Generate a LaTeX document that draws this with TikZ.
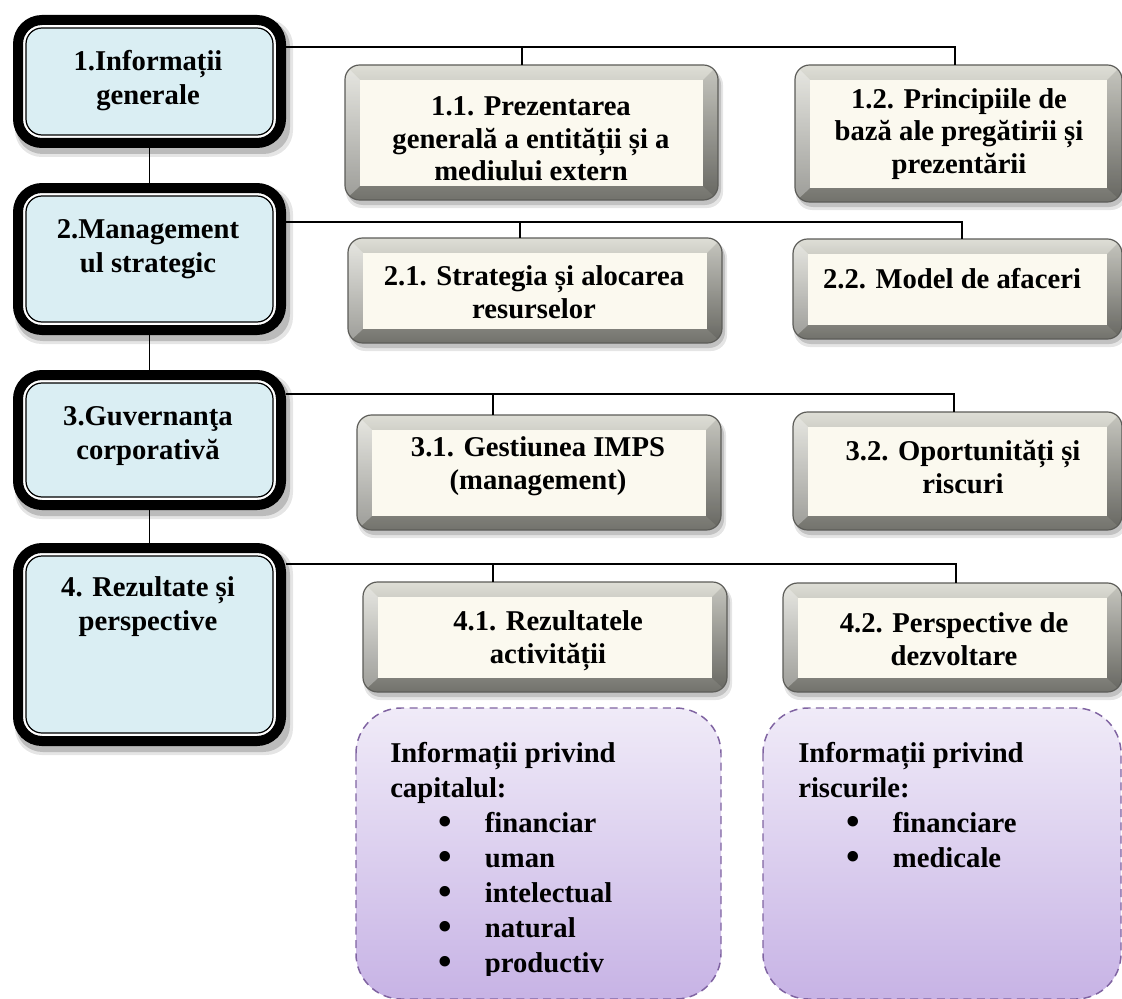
\documentclass[tikz,border=0pt]{standalone}
\usepackage{fontspec}
\setmainfont{Liberation Serif}
\usetikzlibrary{fit}

\definecolor{headfill}{HTML}{DAEEF3}
\definecolor{creamfill}{HTML}{FBF9EF}
\definecolor{bevtop}{HTML}{DEDED6}
\definecolor{bevbot}{HTML}{72726C}
\definecolor{bevedge}{HTML}{5C5C58}
\definecolor{lilactop}{HTML}{F0EBF8}
\definecolor{lilacbot}{HTML}{C7B3E5}
\definecolor{lilacedge}{HTML}{8064A2}

\tikzset{
  conn/.style={draw=black, line width=1.1pt},
  headtext/.style={font=\fontsize{21.5}{25.5}\selectfont\bfseries, align=center, inner sep=0pt},
  subtext/.style={font=\fontsize{21.5}{24.5}\selectfont\bfseries, align=center, inner sep=0pt},
  listtext/.style={font=\fontsize{21.5}{26.25}\selectfont\bfseries, align=left, inner sep=0pt, anchor=north west},
  frame/.style={inner sep=0pt, outer sep=0pt},
}

% main section box: thick black frame, thin inner line, light blue fill
\newcommand\headbox[7]{%
  \fill[black, opacity=0.10, rounded corners=20pt] (#2+2,#3+4) rectangle (#4+7,#5+9);
  \fill[black, opacity=0.18, rounded corners=20pt] (#2+3,#3+5) rectangle (#4+4,#5+6);
  \filldraw[fill=white, draw=black, line width=7.5pt, rounded corners=18pt] (#2+5,#3+5) rectangle (#4-5,#5-5);
  \filldraw[fill=headfill, draw=black, line width=0.9pt, rounded corners=12pt] (#2+13,#3+13) rectangle (#4-13,#5-13);
  \node[frame, fit={(#2,#3) (#4,#5)}] (#1) {};
  \node[headtext] (#1t) at #6 {#7};
}

% sub-section box: bevelled grey frame around a cream panel
\newcommand\bevelbox[7]{%
  \fill[black, opacity=0.10, rounded corners=12pt] (#2+1,#3+4) rectangle (#4+5,#5+8);
  \fill[black, opacity=0.15, rounded corners=12pt] (#2+2,#3+4) rectangle (#4+3,#5+5);
  \begin{scope}
    \clip[rounded corners=11pt] (#2,#3) rectangle (#4,#5);
    \shade[top color=bevtop, bottom color=bevbot] (#2,#3) rectangle (#4,#5);
    \fill[white, opacity=0.30] (#2,#3) -- (#2+15,#3+15) -- (#2+15,#5-14) -- (#2,#5) -- cycle;
    \fill[black, opacity=0.10] (#4,#3) -- (#4,#5) -- (#4-15,#5-14) -- (#4-15,#3+15) -- cycle;
  \end{scope}
  \fill[creamfill] (#2+15,#3+15) rectangle (#4-15,#5-14);
  \draw[bevedge, line width=0.9pt, rounded corners=11pt] (#2,#3) rectangle (#4,#5);
  \node[frame, fit={(#2,#3) (#4,#5)}] (#1) {};
  \node[subtext] (#1t) at #6 {#7};
}

% dashed lilac note panel
\newcommand\notebox[5]{%
  \shade[top color=lilactop, bottom color=lilacbot, rounded corners=34pt] (#2,#3) rectangle (#4,#5);
  \draw[lilacedge, line width=1.1pt, dash pattern=on 6pt off 4pt, rounded corners=34pt] (#2,#3) rectangle (#4,#5);
  \node[frame, fit={(#2,#3) (#4,#5)}] (#1) {};
}

% bulleted list item
\newcommand\bul[1]{\hspace*{36pt}\makebox[35pt][l]{\raisebox{-1.5pt}{\fontsize{29}{29}\selectfont •}}#1}

\begin{document}
\begin{tikzpicture}[x=0.75pt, y=-0.75pt]
  \useasboundingbox (0,0) rectangle (1122,999);
  \fill[white] (0,0) rectangle (1122,999);

  % junctions of the branch lines
  \coordinate (r1) at (955,47);  \coordinate (j1) at (522,47);
  \coordinate (r2) at (962,222); \coordinate (j2) at (520,222);
  \coordinate (r3) at (954,394); \coordinate (j3) at (493,394);
  \coordinate (r4) at (956,564); \coordinate (j4) at (493,564);

  % main sections
  \headbox{L1}{13}{15}{286}{148}{(148,81)}{1.Informații\\generale}
  \headbox{L2}{13}{183}{286}{335}{(148,249)}{2.Management\\ul strategic}
  \headbox{L3}{13}{370}{286}{510}{(148,436)}{3.Guvernanţa\\corporativă}
  \headbox{L4}{13}{543}{286}{746}{(148,607)}{4. Rezultate și\\perspective}

  % sub-sections
  \bevelbox{b11}{345}{65}{718}{200}{(531,139)}{1.1. Prezentarea\\generală a entității și a\\mediului extern}
  \bevelbox{b12}{795}{65}{1122}{202}{(959,134)}{1.2. Principiile de\\bază ale pregătirii și\\prezentării}
  \bevelbox{b21}{348}{238}{722}{343}{(534,292)}{2.1. Strategia și alocarea\\resurselor}
  \bevelbox{b22}{793}{239}{1122}{339}{(952,279)}{2.2. Model de afaceri}
  \bevelbox{b31}{357}{415}{721}{530}{(538,466)}{3.1. Gestiunea IMPS\\(management)}
  \bevelbox{b32}{793}{412}{1122}{530}{(963,467)}{3.2. Oportunități și\\riscuri}
  \bevelbox{b41}{363}{582}{727}{692}{(548,641)}{4.1. Rezultatele\\activității}
  \bevelbox{b42}{783}{583}{1122}{692}{(954,639)}{4.2. Perspective de\\dezvoltare}

  % connectors
  \draw[conn] (L1.south) -- (L2.north);
  \draw[conn] (L2.south) -- (L3.north);
  \draw[conn] (L3.south) -- (L4.north);
  \draw[conn] (L1.east |- r1) -- (r1) -- (r1 |- b12.north);
  \draw[conn] (j1) -- (j1 |- b11.north);
  \draw[conn] (L2.east |- r2) -- (r2) -- (r2 |- b22.north);
  \draw[conn] (j2) -- (j2 |- b21.north);
  \draw[conn] (L3.east |- r3) -- (r3) -- (r3 |- b32.north);
  \draw[conn] (j3) -- (j3 |- b31.north);
  \draw[conn] (L4.east |- r4) -- (r4) -- (r4 |- b42.north);
  \draw[conn] (j4) -- (j4 |- b41.north);

  % notes
  \notebox{n1}{356}{708}{721}{999}
  \notebox{n2}{763}{708}{1121}{999}
  \begin{scope}
    \clip (0,0) rectangle (1122,975);
    \node[listtext] (n1t) at (390,742) {Informații privind\\capitalul:\\\bul{financiar}\\\bul{uman}\\\bul{intelectual}\\\bul{natural}\\\bul{productiv}};
    \node[listtext] (n2t) at (798,742) {Informații privind\\riscurile:\\\bul{financiare}\\\bul{medicale}};
  \end{scope}
\end{tikzpicture}
\end{document}
